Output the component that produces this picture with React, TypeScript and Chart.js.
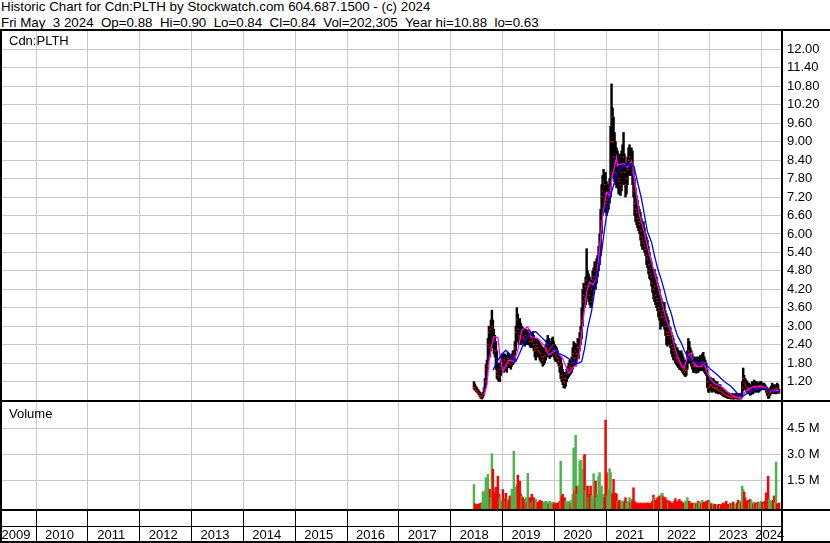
import React, { useEffect, useRef } from 'react';
import { Chart, registerables } from 'chart.js';

Chart.register(...registerables);

const FONT = "'Liberation Sans', Arial, sans-serif";
const GRID = '#c8c8c8';
const UP = '#4cb34c';
const DOWN = '#ff0000';
const FLAT = '#a0a0a0';

const headerLine1 = 'Historic Chart for Cdn:PLTH by Stockwatch.com 604.687.1500 - (c) 2024';
const headerLine2 = 'Fri May  3 2024  Op=0.88  Hi=0.90  Lo=0.84  Cl=0.84  Vol=202,305  Year hi=10.88  lo=0.63';
const symbolLabel = 'Cdn:PLTH';
const volumeLabel = 'Volume';

// x axis in decimal years
const axisStartYear = 2009.344;
const axisEndYear = 2024.392;
const firstBarYear = 2018.449;
const lastBarYear = 2024.336;
const yearBoundaries = [2010, 2011, 2012, 2013, 2014, 2015, 2016, 2017, 2018, 2019, 2020, 2021, 2022, 2023, 2024];
const yearLabels = ['2009', '2010', '2011', '2012', '2013', '2014', '2015', '2016', '2017', '2018', '2019', '2020', '2021', '2022', '2023', '2024'];
const yearLabelPositions = [2009.614, 2010.453, 2011.453, 2012.453, 2013.453, 2014.453, 2015.453, 2016.453, 2017.453, 2018.453, 2019.453, 2020.453, 2021.453, 2022.453, 2023.453, 2024.154];

const priceMin = 0.6;
const priceMax = 12.6;
const priceTicks = [1.2, 1.8, 2.4, 3.0, 3.6, 4.2, 4.8, 5.4, 6.0, 6.6, 7.2, 7.8, 8.4, 9.0, 9.6, 10.2, 10.8, 11.4, 12.0];
const volumeMin = -0.15;
const volumeMax = 6.0;
const volumeTicks = [1.5, 3.0, 4.5];

// weekly bars, June 2018 -> May 2024
const weeklyHigh = [
  1.2, 1.12, 1.05, 1.0, 0.95, 0.9, 0.86, 0.8, 0.78, 0.85,
  1.0, 1.3, 1.75, 1.9, 2.6, 3.0, 2.9, 3.2, 3.52, 3.2,
  2.9, 2.7, 2.5, 2.2, 1.8, 1.6, 1.8, 2.0, 2.1, 2.1,
  2.0, 2.1, 2.05, 2.0, 2.15, 2.1, 2.05, 2.0, 2.1, 2.2,
  2.2, 2.5, 3.0, 3.6, 3.4, 3.2, 3.25, 3.1, 3.0, 2.95,
  2.9, 2.85, 2.9, 2.85, 2.8, 2.9, 2.85, 2.8, 2.75, 2.8,
  2.7, 2.6, 2.5, 2.6, 2.55, 2.5, 2.45, 2.4, 2.35, 2.3,
  2.25, 2.3, 2.4, 2.55, 2.7, 2.6, 2.45, 2.5, 2.6, 2.65,
  2.5, 2.4, 2.35, 2.3, 2.2, 2.1, 2.0, 2.0, 1.8, 1.6,
  1.5, 1.4, 1.5, 1.6, 1.7, 1.8, 1.9, 1.85, 2.0, 2.3,
  2.5, 2.45, 2.4, 2.4, 2.6, 2.55, 2.8, 3.0, 3.6, 4.2,
  4.4, 4.3, 4.6, 5.52, 4.8, 4.7, 4.6, 4.3, 4.5, 4.8,
  4.9, 5.1, 5.0, 5.2, 5.3, 5.6, 6.0, 6.8, 7.6, 7.9,
  8.1, 7.9, 8.0, 7.7, 7.6, 7.5, 7.8, 9.5, 10.88, 10.1,
  9.8, 9.3, 9.0, 8.8, 8.7, 8.5, 8.6, 8.4, 8.7, 8.9,
  9.3, 8.6, 8.3, 8.2, 8.5, 8.8, 8.9, 8.7, 8.8, 8.7,
  8.2, 7.8, 7.5, 7.25, 7.1, 6.9, 6.8, 6.7, 6.5, 6.3,
  6.4, 6.2, 6.0, 5.9, 5.8, 5.6, 5.4, 5.2, 5.1, 4.9,
  4.8, 4.85, 4.7, 4.6, 4.4, 4.3, 4.2, 4.0, 3.9, 3.8,
  3.7, 3.77, 3.5, 3.4, 3.3, 3.2, 3.0, 2.95, 2.8, 2.7,
  2.6, 2.45, 2.4, 2.3, 2.3, 2.2, 2.2, 2.1, 2.2, 2.1,
  2.0, 1.9, 1.8, 1.9, 2.2, 2.6, 2.5, 2.3, 2.2, 2.1,
  2.0, 1.95, 2.0, 1.9, 2.0, 1.95, 2.0, 2.05, 2.0, 2.1,
  2.15, 2.0, 1.9, 1.8, 1.6, 1.4, 1.3, 1.35, 1.3, 1.25,
  1.3, 1.25, 1.2, 1.15, 1.2, 1.1, 1.05, 1.1, 1.0, 1.0,
  0.95, 0.95, 0.9, 0.88, 0.85, 0.85, 0.82, 0.8, 0.8, 0.82,
  0.8, 0.78, 0.8, 0.82, 0.8, 0.78, 0.8, 0.82, 0.8, 1.2,
  1.64, 1.4, 1.3, 1.25, 1.2, 1.1, 1.15, 1.05, 1.1, 1.2,
  1.1, 1.25, 1.2, 1.15, 1.2, 1.1, 1.15, 1.2, 1.2, 1.15,
  1.1, 1.15, 1.1, 1.05, 1.0, 0.95, 0.9, 1.0, 1.05, 1.15,
  1.1, 1.05, 1.1, 1.05, 1.15, 1.1, 0.95,
];

const weeklyLow = [
  0.95, 0.92, 0.88, 0.85, 0.8, 0.76, 0.7, 0.65, 0.63, 0.68,
  0.75, 0.9, 1.1, 1.4, 1.6, 2.1, 2.0, 2.2, 2.5, 2.3,
  2.1, 2.0, 1.6, 1.3, 1.25, 1.2, 1.2, 1.4, 1.5, 1.55,
  1.5, 1.6, 1.55, 1.5, 1.65, 1.7, 1.65, 1.6, 1.7, 1.75,
  1.8, 1.9, 2.2, 2.6, 2.5, 2.4, 2.5, 2.4, 2.5, 2.45,
  2.4, 2.35, 2.4, 2.45, 2.4, 2.45, 2.35, 2.3, 2.3, 2.3,
  2.2, 2.0, 1.9, 2.1, 2.0, 2.0, 1.9, 1.85, 1.8, 1.7,
  1.75, 1.8, 1.9, 2.0, 2.1, 2.0, 1.95, 2.0, 2.05, 2.1,
  2.0, 1.9, 1.85, 1.85, 1.8, 1.7, 1.5, 1.3, 1.2, 1.1,
  1.0, 0.98, 1.05, 1.2, 1.3, 1.35, 1.4, 1.45, 1.5, 1.6,
  1.7, 1.75, 1.7, 1.8, 2.0, 1.95, 2.2, 2.4, 2.6, 3.0,
  3.5, 3.6, 3.7, 4.0, 3.9, 3.8, 3.7, 3.6, 3.7, 4.0,
  4.2, 4.3, 4.2, 4.4, 4.6, 4.8, 5.0, 5.3, 6.0, 6.6,
  6.8, 6.7, 6.9, 6.6, 6.7, 6.8, 7.0, 7.2, 8.5, 8.0,
  7.8, 7.7, 7.6, 7.5, 7.5, 7.3, 7.3, 7.25, 7.4, 7.6,
  7.7, 7.6, 7.2, 7.3, 7.6, 7.9, 8.0, 7.9, 7.9, 7.6,
  7.2, 6.6, 6.4, 6.3, 6.2, 6.1, 6.0, 5.8, 5.6, 5.5,
  5.5, 5.4, 5.3, 5.0, 4.9, 4.7, 4.55, 4.5, 4.3, 4.1,
  3.9, 3.8, 3.7, 3.6, 3.5, 3.3, 3.2, 2.9, 3.0, 3.1,
  3.0, 2.9, 2.7, 2.4, 2.35, 2.5, 2.4, 2.3, 2.1, 2.0,
  1.9, 1.9, 1.8, 1.75, 1.7, 1.65, 1.6, 1.58, 1.55, 1.5,
  1.45, 1.4, 1.36, 1.4, 1.6, 1.8, 1.9, 1.8, 1.7, 1.6,
  1.5, 1.5, 1.5, 1.47, 1.5, 1.5, 1.55, 1.6, 1.55, 1.6,
  1.55, 1.5, 1.45, 1.4, 1.0, 0.85, 0.85, 0.9, 0.9, 0.85,
  0.9, 0.88, 0.85, 0.82, 0.85, 0.8, 0.8, 0.82, 0.78, 0.75,
  0.72, 0.7, 0.7, 0.68, 0.66, 0.65, 0.65, 0.64, 0.63, 0.64,
  0.63, 0.63, 0.64, 0.64, 0.63, 0.63, 0.63, 0.64, 0.63, 0.7,
  0.9, 1.0, 0.95, 0.9, 0.85, 0.8, 0.8, 0.75, 0.78, 0.85,
  0.8, 0.85, 0.9, 0.85, 0.88, 0.85, 0.86, 0.9, 0.95, 0.95,
  0.93, 0.95, 0.93, 0.85, 0.75, 0.65, 0.66, 0.75, 0.8, 0.85,
  0.82, 0.8, 0.85, 0.8, 0.85, 0.82, 0.82,
];

const weeklyClose = [
  1.0, 0.98, 0.92, 0.9, 0.85, 0.8, 0.74, 0.7, 0.72, 0.8,
  0.95, 1.2, 1.6, 1.7, 2.4, 2.8, 2.3, 2.9, 3.0, 2.6,
  2.5, 2.2, 1.8, 1.5, 1.4, 1.35, 1.6, 1.7, 1.9, 1.8,
  1.65, 1.9, 1.75, 1.7, 1.95, 1.85, 1.8, 1.75, 1.9, 2.0,
  2.05, 2.3, 2.8, 3.2, 2.9, 2.7, 2.65, 2.6, 2.8, 2.65,
  2.6, 2.55, 2.7, 2.6, 2.65, 2.7, 2.5, 2.6, 2.5, 2.55,
  2.4, 2.2, 2.3, 2.4, 2.3, 2.2, 2.15, 2.1, 2.0, 1.9,
  2.0, 2.05, 2.2, 2.3, 2.4, 2.2, 2.25, 2.3, 2.35, 2.4,
  2.2, 2.1, 2.05, 2.0, 1.95, 1.85, 1.7, 1.75, 1.4, 1.3,
  1.2, 1.15, 1.3, 1.45, 1.55, 1.6, 1.7, 1.65, 1.8, 2.0,
  2.1, 1.95, 2.2, 2.1, 2.3, 2.35, 2.6, 2.8, 3.2, 3.8,
  4.0, 3.9, 4.3, 4.5, 4.2, 4.3, 4.0, 3.8, 4.2, 4.5,
  4.6, 4.8, 4.6, 4.9, 5.0, 5.3, 5.7, 6.4, 7.2, 7.4,
  7.7, 7.6, 7.3, 7.0, 7.1, 7.2, 7.5, 9.0, 9.8, 9.0,
  8.5, 8.3, 8.0, 7.9, 8.2, 7.8, 7.7, 7.6, 8.0, 8.2,
  8.5, 8.0, 7.6, 7.8, 8.1, 8.4, 8.5, 8.3, 8.4, 8.0,
  7.4, 7.0, 6.8, 6.7, 6.5, 6.4, 6.3, 6.1, 5.9, 5.8,
  5.7, 5.6, 5.5, 5.3, 5.2, 5.0, 4.8, 4.7, 4.6, 4.4,
  4.2, 4.3, 4.0, 3.9, 3.8, 3.6, 3.5, 3.3, 3.4, 3.5,
  3.3, 3.2, 3.0, 2.8, 2.7, 2.8, 2.7, 2.6, 2.4, 2.3,
  2.2, 2.1, 2.0, 1.95, 1.9, 1.85, 1.8, 1.75, 1.7, 1.65,
  1.6, 1.5, 1.55, 1.6, 2.0, 2.2, 2.1, 2.0, 1.9, 1.8,
  1.7, 1.72, 1.75, 1.7, 1.75, 1.7, 1.8, 1.82, 1.75, 1.85,
  1.8, 1.7, 1.65, 1.6, 1.2, 1.0, 1.05, 1.1, 1.08, 1.0,
  1.05, 1.0, 0.98, 0.95, 1.0, 0.92, 0.9, 0.95, 0.88, 0.85,
  0.82, 0.8, 0.78, 0.75, 0.73, 0.72, 0.7, 0.71, 0.68, 0.7,
  0.68, 0.67, 0.7, 0.72, 0.68, 0.67, 0.7, 0.72, 0.7, 1.0,
  1.3, 1.15, 1.1, 1.05, 1.0, 0.9, 0.95, 0.85, 0.9, 1.0,
  0.9, 1.05, 1.0, 0.98, 1.02, 0.95, 1.0, 1.05, 1.06, 1.0,
  0.99, 1.02, 0.98, 0.92, 0.85, 0.75, 0.8, 0.85, 0.9, 0.95,
  0.92, 0.9, 0.94, 0.98, 0.95, 0.9, 0.84,
];

// weekly volume, millions of shares
const weeklyVolume = [
  1.26, 0.15, 0.1, 0.12, 0.1, 0.15, 0.1, 0.2, 0.15, 0.84,
  0.6, 0.9, 1.65, 0.8, 1.84, 1.0, 0.97, 0.5, 3.03, 2.13,
  0.8, 0.6, 1.1, 0.7, 1.74, 0.7, 0.5, 0.2, 0.3, 0.97,
  0.4, 0.3, 0.75, 0.35, 0.4, 0.3, 0.6, 0.25, 1.0, 0.5,
  3.17, 1.1, 0.9, 1.26, 1.8, 0.6, 1.45, 0.7, 0.6, 0.5,
  0.4, 0.3, 0.5, 0.2, 1.9, 0.3, 0.5, 0.2, 0.7, 0.3,
  0.5, 0.2, 0.4, 0.15, 0.25, 0.2, 0.35, 0.15, 0.3, 0.2,
  0.25, 0.15, 0.3, 0.2, 0.25, 0.12, 0.3, 0.2, 0.15, 0.25,
  0.12, 0.2, 0.15, 0.1, 0.2, 0.15, 0.3, 2.59, 0.55, 0.7,
  0.35, 0.5, 0.3, 0.25, 0.2, 0.3, 0.25, 0.15, 0.35, 0.7,
  3.36, 0.9, 4.09, 1.15, 0.7, 1.2, 2.61, 2.65, 1.0, 2.13,
  2.9, 2.99, 0.9, 1.17, 1.17, 0.5, 0.7, 1.17, 0.6, 0.4,
  1.88, 0.7, 1.46, 0.5, 0.7, 1.74, 1.94, 0.8, 1.17, 0.6,
  0.7, 0.5, 4.96, 1.94, 0.6, 0.97, 2.17, 1.94, 0.8, 0.7,
  1.55, 0.6, 0.75, 0.7, 0.3, 0.25, 0.35, 0.2, 0.3, 0.25,
  0.15, 0.3, 0.5, 0.2, 0.3, 0.25, 0.5, 0.2, 0.4, 0.3,
  1.07, 0.3, 0.2, 0.15, 0.2, 0.1, 0.15, 0.2, 0.1, 0.15,
  0.2, 0.1, 0.15, 0.2, 0.12, 0.2, 0.15, 0.1, 0.2, 0.3,
  0.65, 0.5, 0.35, 0.25, 0.5, 0.35, 0.6, 0.55, 0.7, 0.75,
  0.55, 0.4, 0.5, 0.3, 0.35, 0.2, 0.3, 0.25, 0.15, 0.2,
  0.1, 0.3, 0.45, 0.2, 0.3, 0.15, 0.4, 0.2, 0.3, 0.15,
  0.2, 0.1, 0.3, 0.2, 0.5, 0.25, 0.3, 0.15, 0.1, 0.2,
  0.15, 0.1, 0.2, 0.15, 0.1, 0.3, 0.2, 0.25, 0.15, 0.35,
  0.2, 0.25, 0.15, 0.3, 0.2, 0.35, 0.25, 0.2, 0.15, 0.1,
  0.15, 0.08, 0.12, 0.06, 0.1, 0.08, 0.12, 0.06, 0.1, 0.08,
  0.2, 0.1, 0.15, 0.3, 0.1, 0.12, 0.08, 0.2, 0.15, 0.1,
  0.25, 0.08, 0.15, 0.1, 0.2, 0.35, 0.15, 0.3, 0.2, 1.17,
  0.97, 0.82, 0.5, 0.3, 0.25, 0.35, 0.2, 0.4, 0.3, 0.2,
  0.15, 0.25, 0.15, 0.2, 0.1, 0.25, 0.2, 0.15, 0.3, 0.2,
  0.25, 0.15, 0.3, 0.78, 0.4, 1.74, 0.4, 0.35, 0.3, 0.2,
  0.35, 0.6, 0.2, 2.55, 0.15, 0.1, 0.2,
];

// moving averages (week index, price)
const fastMaWeek = [10, 13, 15, 18, 20, 24, 26, 29, 32, 35, 40, 44, 48, 54, 57, 64, 70, 75, 82, 89, 95, 100, 103, 106, 109, 113, 116, 119, 123, 126, 129, 133, 136, 139, 143, 144, 148, 151, 154, 158, 159, 163, 166, 169, 173, 176, 179, 183, 186, 189, 191, 194, 198, 201, 204, 208, 211, 214, 218, 219, 223, 228, 231, 234, 238, 241, 248, 254, 261, 268, 271, 274, 281, 288, 294, 298, 301, 306];
const fastMaValue = [0.76, 1.09, 1.85, 2.39, 2.66, 2.63, 2.06, 1.52, 1.74, 1.9, 1.85, 2.22, 2.87, 2.98, 2.66, 2.6, 2.39, 2.06, 2.22, 1.95, 1.47, 1.68, 1.74, 2.17, 3.04, 4.12, 4.44, 4.34, 4.55, 5.52, 6.6, 7.36, 7.25, 7.9, 8.5, 8.23, 8.28, 8.28, 8.17, 8.34, 8.23, 7.25, 6.6, 6.28, 5.74, 5.31, 4.98, 4.5, 4.12, 3.7, 3.44, 3.11, 2.78, 2.35, 2.02, 1.75, 1.64, 2.02, 2.13, 1.91, 1.69, 1.69, 1.8, 1.47, 1.25, 1.14, 1.04, 0.87, 0.71, 0.65, 0.82, 0.93, 1.04, 1.04, 0.98, 0.87, 0.87, 0.93];
const slowMaWeek = [19, 24, 29, 32, 35, 39, 42, 45, 50, 55, 59, 62, 67, 74, 79, 85, 92, 97, 102, 105, 108, 111, 114, 118, 121, 124, 128, 131, 134, 138, 141, 144, 148, 151, 154, 158, 161, 164, 168, 171, 174, 178, 181, 184, 188, 191, 194, 198, 201, 204, 208, 211, 214, 218, 221, 228, 233, 238, 244, 251, 258, 264, 269, 274, 281, 288, 294, 299, 306];
const slowMaValue = [1.57, 1.9, 2.12, 2.22, 2.12, 1.95, 1.85, 2.06, 2.44, 2.71, 2.82, 2.82, 2.66, 2.44, 2.28, 2.12, 2.01, 1.9, 1.79, 1.8, 1.85, 2.28, 2.93, 3.5, 4.12, 4.77, 5.42, 6.17, 6.82, 7.36, 7.69, 8.01, 8.17, 8.23, 8.23, 8.28, 8.12, 7.69, 7.15, 6.61, 6.07, 5.74, 5.3, 4.9, 4.5, 4.15, 3.76, 3.4, 3.0, 2.7, 2.45, 2.2, 2.02, 1.91, 1.85, 1.8, 1.74, 1.58, 1.42, 1.2, 1.04, 0.82, 0.71, 0.82, 0.93, 0.98, 0.98, 0.87, 0.87];

const weekToYear = (i: number) =>
  firstBarYear + (i * (lastBarYear - firstBarYear)) / (weeklyClose.length - 1);

const fontSpec = { family: FONT, size: 13 };

function zeroPad(scale: any) {
  scale.paddingTop = 0;
  scale.paddingBottom = 0;
  scale.paddingLeft = 0;
  scale.paddingRight = 0;
}

export default function App() {
  const priceRef = useRef<HTMLCanvasElement>(null);
  const volRef = useRef<HTMLCanvasElement>(null);

  useEffect(() => {
    document.body.style.margin = '0';
    document.body.style.overflow = 'hidden';

    const priceChart = new Chart(priceRef.current as HTMLCanvasElement, {
      type: 'bar',
      data: {
        datasets: [
          {
            type: 'bar',
            data: weeklyHigh.map((h, i) => ({ x: weekToYear(i), y: [weeklyLow[i], h] })) as any,
            backgroundColor: '#000000',
            barThickness: 1.8,
            grouped: false,
            order: 4,
          } as any,
          {
            type: 'line',
            data: weeklyClose.map((c, i) => ({ x: weekToYear(i), y: c })),
            showLine: false,
            pointStyle: 'rect',
            pointRadius: 1.0,
            pointBackgroundColor: '#ff0000',
            pointBorderWidth: 0,
            order: 3,
          } as any,
          {
            type: 'line',
            data: fastMaWeek.map((w, i) => ({ x: weekToYear(w), y: fastMaValue[i] })),
            borderColor: '#ff00ff',
            borderWidth: 1.3,
            pointRadius: 0,
            tension: 0,
            order: 2,
          } as any,
          {
            type: 'line',
            data: slowMaWeek.map((w, i) => ({ x: weekToYear(w), y: slowMaValue[i] })),
            borderColor: '#0000ff',
            borderWidth: 1.3,
            pointRadius: 0,
            tension: 0,
            order: 1,
          } as any,
        ],
      },
      options: {
        animation: false,
        responsive: false,
        events: [],
        layout: { padding: { left: 2, right: 0, top: 0, bottom: 0 }, autoPadding: false } as any,
        plugins: { legend: { display: false }, tooltip: { enabled: false } },
        scales: {
          x: {
            type: 'linear',
            offset: false,
            min: axisStartYear,
            max: axisEndYear,
            afterBuildTicks: (s: any) => {
              s.ticks = yearBoundaries.map((v) => ({ value: v }));
            },
            ticks: { display: false },
            grid: { color: GRID, drawTicks: false, lineWidth: 1, offset: false },
            border: { display: false },
            afterFit: (s: any) => {
              s.height = 0;
              zeroPad(s);
            },
          },
          y: {
            type: 'linear',
            position: 'right',
            min: priceMin,
            max: priceMax,
            afterBuildTicks: (s: any) => {
              s.ticks = priceTicks.map((v) => ({ value: v }));
            },
            ticks: {
              color: '#000000',
              font: fontSpec,
              padding: 5,
              autoSkip: false,
              callback: (v: any) => Number(v).toFixed(2),
            },
            grid: { color: GRID, drawTicks: false, lineWidth: 1 },
            border: { display: false },
            afterFit: (s: any) => {
              s.width = 48;
              zeroPad(s);
            },
          },
        },
      } as any,
    });

    const volumeColors = weeklyClose.map((c, i) =>
      i === 0 || c > weeklyClose[i - 1] ? UP : c < weeklyClose[i - 1] ? DOWN : FLAT
    );

    const volChart = new Chart(volRef.current as HTMLCanvasElement, {
      type: 'bar',
      data: {
        datasets: [
          {
            type: 'bar',
            data: weeklyVolume.map((v, i) => ({ x: weekToYear(i), y: v })),
            backgroundColor: volumeColors,
            barThickness: 1.8,
            grouped: false,
            base: volumeMin,
          } as any,
        ],
      },
      options: {
        animation: false,
        responsive: false,
        events: [],
        layout: { padding: { left: 2, right: 0, top: 0, bottom: 0 }, autoPadding: false } as any,
        plugins: { legend: { display: false }, tooltip: { enabled: false } },
        scales: {
          x: {
            type: 'linear',
            position: 'bottom',
            offset: false,
            weight: 0,
            min: axisStartYear,
            max: axisEndYear,
            afterBuildTicks: (s: any) => {
              s.ticks = yearBoundaries.map((v) => ({ value: v }));
            },
            ticks: { display: false },
            grid: { color: GRID, tickColor: '#000000', drawTicks: true, tickLength: 32, lineWidth: 1, offset: false },
            border: { display: false },
            afterFit: (s: any) => {
              s.height = 17;
              zeroPad(s);
            },
          },
          x2: {
            type: 'linear',
            position: 'bottom',
            offset: false,
            weight: 1,
            min: axisStartYear,
            max: axisEndYear,
            afterBuildTicks: (s: any) => {
              s.ticks = yearLabelPositions.map((v) => ({ value: v }));
            },
            ticks: {
              color: '#000000',
              font: fontSpec,
              padding: 2,
              autoSkip: false,
              maxRotation: 0,
              minRotation: 0,
              callback: (_v: any, i: number) => yearLabels[i],
            },
            grid: { display: false, drawTicks: false, offset: false },
            border: { display: false },
            afterFit: (s: any) => {
              s.height = 16;
              zeroPad(s);
            },
          },
          y: {
            type: 'linear',
            position: 'right',
            min: volumeMin,
            max: volumeMax,
            afterBuildTicks: (s: any) => {
              s.ticks = volumeTicks.map((v) => ({ value: v }));
            },
            ticks: {
              color: '#000000',
              font: fontSpec,
              padding: 5,
              autoSkip: false,
              callback: (v: any) => Number(v).toFixed(1) + ' M',
            },
            grid: { color: GRID, drawTicks: false, lineWidth: 1 },
            border: { display: false },
            afterFit: (s: any) => {
              s.width = 48;
              zeroPad(s);
            },
          },
        },
      } as any,
    });

    return () => {
      priceChart.destroy();
      volChart.destroy();
    };
  }, []);

  const line = (left: number, top: number, width: number, height: number): React.CSSProperties => ({
    position: 'absolute',
    left,
    top,
    width,
    height,
    background: '#000',
  });

  const text: React.CSSProperties = {
    position: 'absolute',
    fontFamily: FONT,
    fontSize: 13,
    lineHeight: '13px',
    color: '#000',
    whiteSpace: 'pre',
  };

  const header: React.CSSProperties = { ...text, fontSize: '10pt', lineHeight: '13px' };

  return (
    <div style={{ position: 'fixed', left: 0, top: 0, width: 830, height: 543, background: '#fff', overflow: 'hidden' }}>
      <div style={{ ...header, left: 1, top: 0 }}>{headerLine1}</div>
      <div style={{ ...header, left: 1, top: 16 }}>{headerLine2}</div>
      <canvas ref={priceRef} width={830} height={369} style={{ position: 'absolute', left: 0, top: 31 }} />
      <canvas ref={volRef} width={830} height={140} style={{ position: 'absolute', left: 0, top: 402 }} />
      <div style={line(0, 29, 830, 2)} />
      <div style={line(0, 29, 2, 514)} />
      <div style={line(781, 29, 2, 513)} />
      <div style={line(0, 400, 830, 2)} />
      <div style={line(0, 509, 830, 2)} />
      <div style={line(0, 526, 782, 1)} />
      <div style={line(0, 541, 830, 2)} />
      <div style={{ ...text, left: 9, top: 34 }}>{symbolLabel}</div>
      <div style={{ ...text, left: 9, top: 407 }}>{volumeLabel}</div>
    </div>
  );
}
